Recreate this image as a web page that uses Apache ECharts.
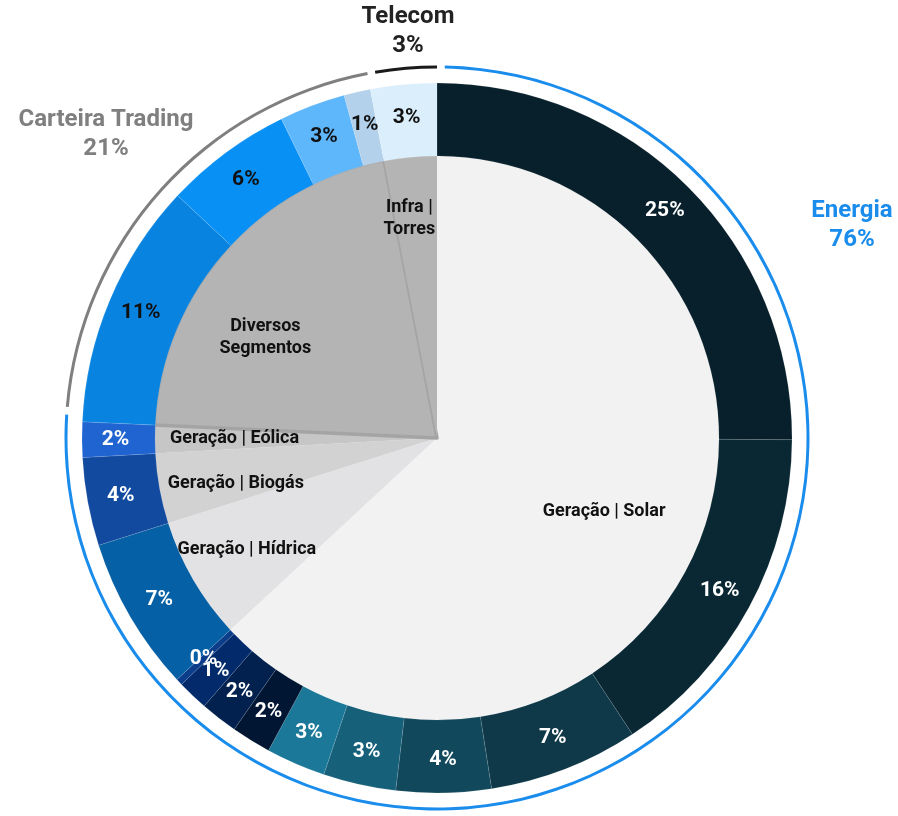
<!DOCTYPE html>
<html>
<head>
<meta charset="utf-8">
<script src="https://cdn.jsdelivr.net/npm/echarts@6/dist/echarts.min.js"></script>
<style>
html,body{margin:0;padding:0;background:#ffffff;}
#chart{width:898px;height:816px;}
</style>
</head>
<body>
<div id="chart"></div>
<script>
// ---- data ----
const segmentValues = [25, 15.6, 6.8, 4.3, 3.3, 2.7, 1.8, 1.7, 1.4, 0.3, 7.0, 4.0, 1.6, 11.2, 5.8, 3.0, 1.2, 3.0];
const segmentColors = ['#08202b', '#0a2833', '#0f3849', '#12485b', '#17607a', '#1b7898',
  '#011633', '#02214f', '#032a6a', '#0c3d8a', '#0660a5', '#114a9f', '#1f64d0',
  '#0884e0', '#0990f5', '#5eb6fb', '#b3d1ea', '#dbeefc'];
const segmentLabelColors = ['#fff','#fff','#fff','#fff','#fff','#fff','#fff','#fff','#fff','#fff','#fff','#fff','#fff',
  '#111','#111','#111','#111','#111'];

const innerCategories = ['Geração | Solar', 'Geração | Hídrica', 'Geração | Biogás', 'Geração | Eólica', 'Diversos\nSegmentos', 'Infra |\nTorres'];
const innerValues = [62.9, 7.0, 4.0, 1.6, 21.2, 3.0];
const innerColors = ['#f2f2f2', '#e2e2e4', '#d2d2d2', '#c6c6c6', '#b4b4b4', '#b4b4b4'];

const groupNames = ['Energia', 'Carteira Trading', 'Telecom'];
const groupPercents = [76, 21, 3];
const groupColors = ['#1a8cec', '#7f7f7f', '#1a1a1a'];

// ---- chart ----
const CX = 437, CY = 438;
const chart = echarts.init(document.getElementById('chart'), null, {renderer: 'canvas'});
const FONT = 'Roboto';

// small per-label nudges for the category labels (style only)
const innerLabelNudge = [[-24, -10], [-10, 6], [4, 8], [6, 0], [-14, 36], [-8, -12]];

const option = {
  animation: false,
  backgroundColor: '#ffffff',
  textStyle: {fontFamily: FONT},
  series: [
    {
      type: 'pie', name: 'inner', center: [CX, CY], radius: [0, 283],
      startAngle: 90, clockwise: true, silent: true,
      label: {show: false}, labelLine: {show: false},
      emphasis: {disabled: true},
      data: innerValues.map((v, i) => ({
        value: v, name: innerCategories[i],
        itemStyle: i === 4
          ? {color: innerColors[i], borderColor: '#a4a4a4', borderWidth: 3.5}
          : {color: innerColors[i]}
      })),
      z: 1
    },
    {
      type: 'pie', name: 'ring', center: [CX, CY], radius: [282, 355],
      startAngle: 90, clockwise: true, silent: true,
      emphasis: {disabled: true},
      labelLine: {show: false},
      labelLayout: {hideOverlap: false},
      minShowLabelAngle: 0,
      label: {
        show: true, position: 'inside', fontFamily: FONT, fontWeight: 'bold', fontSize: 21,
        formatter: p => Math.round(p.value) + '%'
      },
      data: segmentValues.map((v, i) => ({
        value: v,
        itemStyle: {color: segmentColors[i], borderColor: 'rgba(255,255,255,0.18)', borderWidth: 0.6},
        label: {color: segmentLabelColors[i]}
      })),
      z: 2
    },
    {
      type: 'pie', name: 'innerLabels', center: [CX, CY], radius: [128, 283],
      startAngle: 90, clockwise: true, silent: true,
      emphasis: {disabled: true},
      labelLine: {show: false},
      itemStyle: {color: 'rgba(0,0,0,0)'},
      labelLayout: function (p) {
        const n = innerLabelNudge[p.dataIndex] || [0, 0];
        return {dx: n[0], dy: n[1]};
      },
      label: {
        show: true, position: 'inside', fontFamily: FONT, fontWeight: 'bold', fontSize: 18,
        lineHeight: 22, color: '#111', formatter: p => p.name
      },
      data: innerValues.map((v, i) => ({value: v, name: innerCategories[i]})),
      z: 3
    },
    {
      type: 'pie', name: 'groups', center: [CX, CY], radius: [369.5, 372.5],
      startAngle: 89.4, clockwise: true, silent: true, padAngle: 1.2,
      emphasis: {disabled: true},
      label: {show: false}, labelLine: {show: false},
      data: groupPercents.map((v, i) => ({value: v, name: groupNames[i], itemStyle: {color: groupColors[i]}})),
      z: 4
    }
  ],
  graphic: [
    {type: 'text', x: 852, y: 225, z: 10,
      style: {text: groupNames[0] + '\n' + groupPercents[0] + '%', fill: groupColors[0], font: 'bold 24px Roboto', lineHeight: 29, align: 'center', verticalAlign: 'middle'}},
    {type: 'text', x: 106, y: 134, z: 10,
      style: {text: groupNames[1] + '\n' + groupPercents[1] + '%', fill: groupColors[1], font: 'bold 24px Roboto', lineHeight: 29, align: 'center', verticalAlign: 'middle'}},
    {type: 'text', x: 408, y: 31, z: 10,
      style: {text: groupNames[2] + '\n' + groupPercents[2] + '%', fill: '#222222', font: 'bold 24px Roboto', lineHeight: 29, align: 'center', verticalAlign: 'middle'}}
  ]
};
chart.setOption(option);
</script>
</body>
</html>
